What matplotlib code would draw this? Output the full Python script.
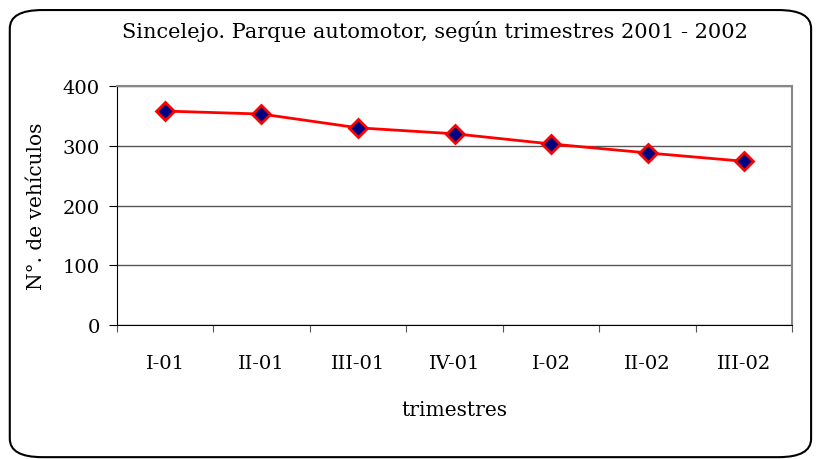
import matplotlib.pyplot as plt
from matplotlib.patches import FancyBboxPatch

# datos
trimestres = ['I-01', 'II-01', 'III-01', 'IV-01', 'I-02', 'II-02', 'III-02']
vehiculos = [358, 353, 330, 320, 303, 288, 274]

plt.rcParams['font.family'] = ['DejaVu Serif']

fig = plt.figure(figsize=(8.16, 4.6), dpi=100)
ax = fig.add_axes([0.143, 0.291, 0.828, 0.52])

# borde redondeado del grafico
borde = FancyBboxPatch((0.012, 0.004), 0.982, 0.972, transform=fig.transFigure,
                       boxstyle='round,pad=0,rounding_size=0.04',
                       fill=False, edgecolor='black', linewidth=1.5)
fig.patches.append(borde)

x = [i + 0.5 for i in range(len(trimestres))]
ax.plot(x, vehiculos, color='red', linewidth=2, marker='D', markersize=9,
        markerfacecolor='#000080', markeredgecolor='red', markeredgewidth=2, zorder=3)

ax.set_xlim(0, len(trimestres))
ax.set_ylim(0, 400)
ax.set_yticks([0, 100, 200, 300, 400])
ax.yaxis.grid(True, color='#555555', linewidth=1)
ax.set_axisbelow(True)

ax.set_xticks(range(len(trimestres) + 1))
ax.set_xticklabels([])
ax.set_xticks(x, minor=True)
ax.set_xticklabels(trimestres, minor=True)
ax.tick_params(axis='x', which='minor', length=0, pad=21, labelsize=14)
ax.tick_params(axis='x', which='major', length=5, direction='out', color='#555555')
ax.tick_params(axis='y', length=6, direction='out', labelsize=14, pad=6)

for s in ['top', 'right']:
    ax.spines[s].set_color('#888888')
    ax.spines[s].set_linewidth(1.5)
ax.spines['left'].set_color('black')
ax.spines['bottom'].set_color('black')

ax.set_xlabel('trimestres', fontsize=14.5, labelpad=20)
ax.set_ylabel('N°. de vehículos', fontsize=14.5, labelpad=12)
fig.text(0.533, 0.932, 'Sincelejo. Parque automotor, según trimestres 2001 - 2002',
         ha='center', va='center', fontsize=15)

fig.savefig('out.png', dpi=100)
